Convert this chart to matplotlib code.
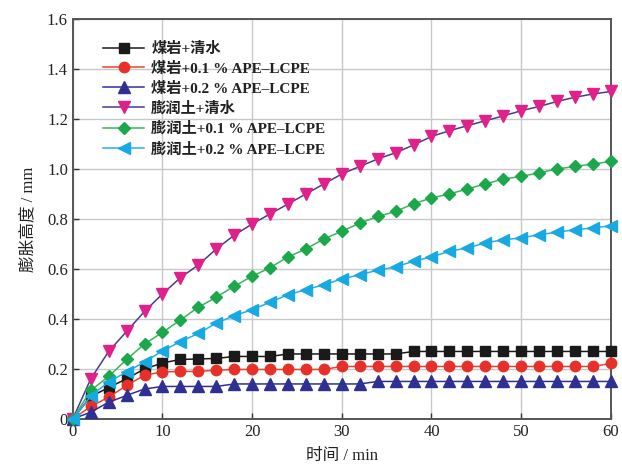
import matplotlib
matplotlib.use("Agg")
import matplotlib.pyplot as plt
import numpy as np

plt.rcParams['font.family'] = ['Liberation Serif', 'Noto Sans CJK SC']
plt.rcParams['mathtext.fontset'] = 'stix'

time_min = list(range(0, 61, 2))

coal_water = [0, 0.09, 0.125, 0.161, 0.20, 0.224, 0.238, 0.24, 0.242, 0.25, 0.25,
              0.25, 0.26, 0.26, 0.26, 0.26, 0.26, 0.26, 0.26, 0.27, 0.27,
              0.27, 0.27, 0.27, 0.27, 0.27, 0.27, 0.27, 0.27, 0.27, 0.27]
coal_01 = [0, 0.05, 0.087, 0.134, 0.175, 0.188, 0.19, 0.19, 0.195, 0.198, 0.198,
           0.198, 0.198, 0.198, 0.198, 0.21, 0.21, 0.21, 0.21, 0.21, 0.21,
           0.21, 0.21, 0.21, 0.21, 0.21, 0.21, 0.21, 0.21, 0.21, 0.222]
coal_02 = [0, 0.027, 0.067, 0.094, 0.12, 0.13, 0.13, 0.13, 0.13, 0.14, 0.14,
           0.14, 0.14, 0.14, 0.14, 0.14, 0.14, 0.15, 0.15, 0.15, 0.15,
           0.15, 0.15, 0.15, 0.15, 0.15, 0.15, 0.15, 0.15, 0.15, 0.15]
bent_water = [0, 0.16, 0.27, 0.35, 0.43, 0.50, 0.565, 0.616, 0.68, 0.735, 0.78,
              0.82, 0.86, 0.90, 0.94, 0.98, 1.01, 1.04, 1.065, 1.096, 1.13,
              1.153, 1.173, 1.193, 1.212, 1.233, 1.25, 1.27, 1.287, 1.30, 1.31]
bent_01 = [0, 0.114, 0.17, 0.238, 0.30, 0.346, 0.396, 0.447, 0.487, 0.531, 0.571,
           0.605, 0.648, 0.68, 0.72, 0.751, 0.783, 0.81, 0.83, 0.861, 0.884,
           0.90, 0.92, 0.94, 0.96, 0.97, 0.985, 1.0, 1.01, 1.02, 1.03]
bent_02 = [0, 0.091, 0.148, 0.188, 0.228, 0.272, 0.309, 0.342, 0.383, 0.413, 0.437,
           0.467, 0.497, 0.517, 0.537, 0.56, 0.577, 0.595, 0.608, 0.631, 0.648,
           0.671, 0.684, 0.704, 0.717, 0.724, 0.737, 0.747, 0.757, 0.764, 0.773]

labels = ["煤岩+清水", "煤岩+0.1 % APE–LCPE", "煤岩+0.2 % APE–LCPE",
          "膨润土+清水", "膨润土+0.1 % APE–LCPE", "膨润土+0.2 % APE–LCPE"]
series = [coal_water, coal_01, coal_02, bent_water, bent_01, bent_02]
markers = ['s', 'o', '^', 'v', 'D', '<']
line_colors = ['#1a1a1a', '#e8452f', '#2e3192', '#4b3a8f', '#3cb45a', '#29aee6']
marker_colors = ['#1a1a1a', '#e8302a', '#2e3192', '#e0218a', '#1aa84a', '#17a9e1']
msizes = [7, 7.5, 8, 8, 6.5, 8]

fig = plt.figure(figsize=(6.22, 4.75), dpi=100)
ax = fig.add_axes([0.117, 0.118, 0.865, 0.842])

for y, lab, m, lc, mc, ms in zip(series, labels, markers, line_colors, marker_colors, msizes):
    ax.plot(time_min, y, color=lc, lw=1.1, marker=m, markersize=ms,
            markerfacecolor=mc, markeredgecolor=mc, label=lab, clip_on=False, zorder=3)

ax.set_xlim(0, 60)
ax.set_ylim(0, 1.6)
ax.set_xticks([0, 10, 20, 30, 40, 50, 60])
ax.set_yticks(np.arange(0, 1.61, 0.2))
ax.set_yticklabels(['0', '0.2', '0.4', '0.6', '0.8', '1.0', '1.2', '1.4', '1.6'])
ax.grid(True, color='#c8c8c8', lw=1.0)
ax.set_axisbelow(True)
ax.tick_params(direction='in', length=4, width=1, labelsize=12, colors='#333333',
               labelcolor='#222222')
for s in ax.spines.values():
    s.set_color('#555555')
    s.set_linewidth(1.4)

ax.set_xlabel("时间 / min", fontsize=12, color='#222222', labelpad=6)
ax.set_ylabel("膨胀高度 / mm", fontsize=12, color='#222222', labelpad=8)

leg = ax.legend(loc='upper left', bbox_to_anchor=(0.045, 0.958), frameon=False,
                fontsize=11, handlelength=2.7, labelspacing=0.38, borderaxespad=0,
                handletextpad=0.45)
for t in leg.get_texts():
    t.set_color('#222222')
    t.set_fontweight('bold')

fig.savefig("out.png", dpi=100, facecolor='white')
